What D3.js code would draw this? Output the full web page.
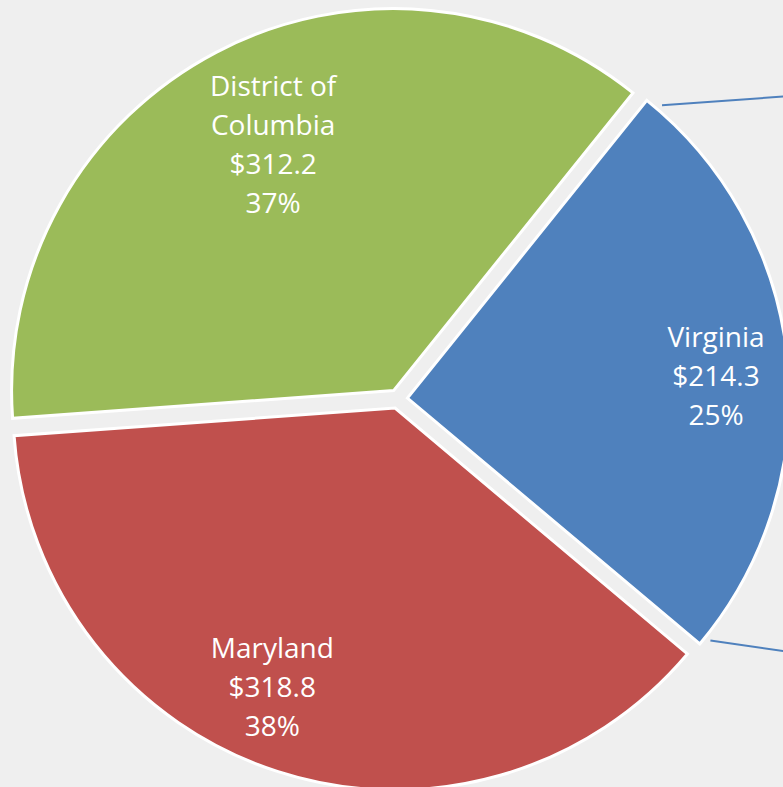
<!DOCTYPE html>
<html>
<head>
	<meta charset="utf-8">
	<title>Pie</title>
	<script src="https://cdn.jsdelivr.net/npm/d3@7"></script>
	<style>
		body { margin: 0; background: #efefef; }
		svg { display: block; }
	</style>
</head>
<body>
	<script>
		var width = 783;
		var height = 787;

		// data, in the order the slices run clockwise starting at Virginia
		var states = ["Virginia", "Maryland", "District of Columbia"];
		var values = [214.3, 318.8, 312.2];
		var labelLines = [["Virginia"], ["Maryland"], ["District of", "Columbia"]];
		var colors = ["#4f81bd", "#c0504d", "#9bbb59"];

		var cx = 398, cy = 399;
		var radius = 382;
		var explode = 9.5;
		var rad = Math.PI / 180;
		var startAngle = 38.8 * rad;

		// label placement: angle shift (deg) from slice middle, distance as share of radius
		var labelShift = [1.3, 5.9, 1.7];
		var labelDist = [0.81, 0.795, 0.72];
		var lineGap = 39;

		var total = d3.sum(values);
		var money = d3.format("$.1f");
		var pct = d3.format(".0%");

		var svg = d3.select("body")
			.append("svg")
			.attr("width", width)
			.attr("height", height);

		svg.append("rect")
			.attr("width", width)
			.attr("height", height)
			.attr("fill", "#efefef");

		var pie = d3.pie()
			.sort(null)
			.startAngle(startAngle)
			.endAngle(startAngle + 2 * Math.PI);

		var arcs = pie(values);
		var arc = d3.arc().innerRadius(0).outerRadius(radius);

		function offset(d) {
			var a = (d.startAngle + d.endAngle) / 2;
			return [Math.sin(a) * explode, -Math.cos(a) * explode];
		}

		var g = svg.append("g")
			.attr("transform", "translate(" + cx + "," + cy + ")");

		var slices = g.selectAll("g.slice")
			.data(arcs)
			.enter()
			.append("g")
			.attr("class", "slice")
			.attr("transform", function(d) {
				var o = offset(d);
				return "translate(" + o[0] + "," + o[1] + ")";
			});

		slices.append("path")
			.attr("d", arc)
			.attr("fill", function(d, i) { return colors[i]; })
			.attr("stroke", "#ffffff")
			.attr("stroke-width", 3)
			.attr("stroke-linejoin", "miter");

		// connector lines leaving the Virginia slice to the right (pie-of-pie style)
		var v = arcs[0];
		var vo = offset(v);
		var connEnds = [[800, 95.4], [800, 653.5]];
		var connAngles = [v.startAngle + 2.2 * rad, v.endAngle - 1.4 * rad];
		connAngles.forEach(function(a, i) {
			var r = radius + 6;
			g.append("line")
				.attr("x1", vo[0] + Math.sin(a) * r)
				.attr("y1", vo[1] - Math.cos(a) * r)
				.attr("x2", connEnds[i][0] - cx)
				.attr("y2", connEnds[i][1] - cy)
				.attr("stroke", "#4f81bd")
				.attr("stroke-width", 2);
		});

		// data labels
		slices.each(function(d, i) {
			var a = (d.startAngle + d.endAngle) / 2 + labelShift[i] * rad;
			var r = radius * labelDist[i];
			var x = Math.sin(a) * r;
			var y = -Math.cos(a) * r;
			var lines = labelLines[i].concat([money(values[i]), pct(values[i] / total)]);
			var t = d3.select(this).append("text")
				.attr("text-anchor", "middle")
				.attr("fill", "#ffffff")
				.attr("font-family", "'Open Sans', sans-serif")
				.attr("font-size", "28px");
			t.selectAll("tspan")
				.data(lines)
				.enter()
				.append("tspan")
				.attr("x", x)
				.attr("y", function(s, k) { return y + (k - (lines.length - 1) / 2) * lineGap; })
				.attr("dominant-baseline", "central")
				.text(function(s) { return s; });
		});
	</script>
</body>
</html>
